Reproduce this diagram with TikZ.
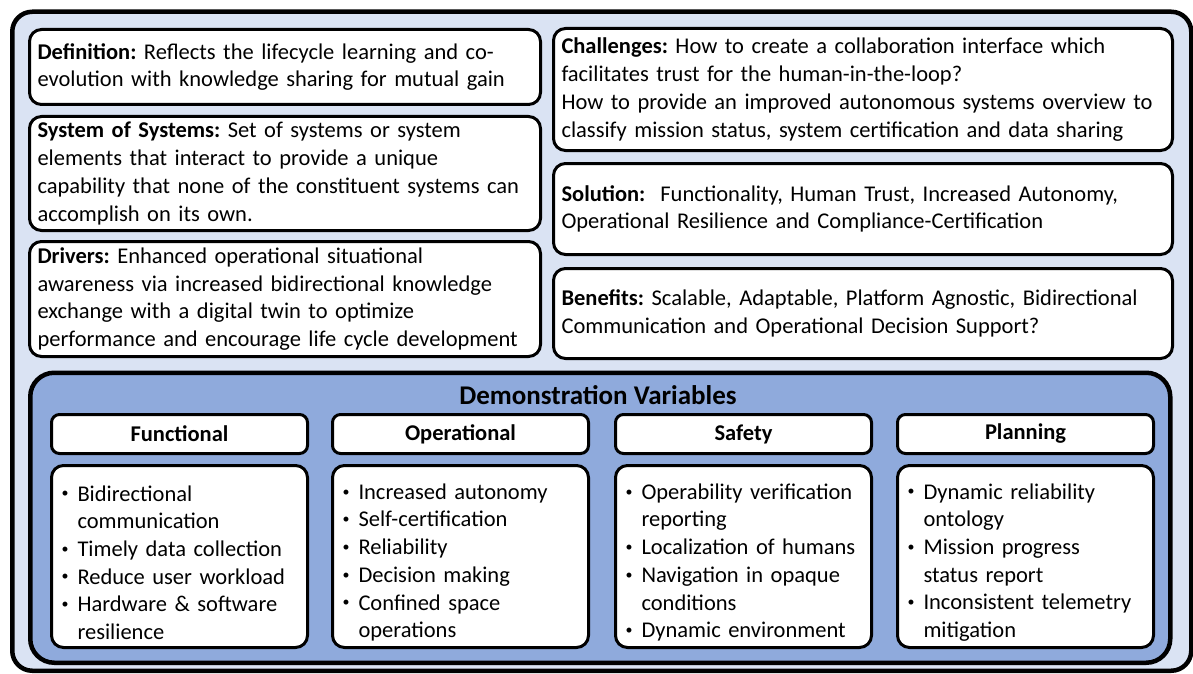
\documentclass[tikz,border=0pt]{standalone}
\usepackage{fontspec}
\setmainfont{Carlito}
\frenchspacing
\definecolor{paleblue}{HTML}{DAE3F3}
\definecolor{demoblue}{HTML}{8FAADC}
\newcommand{\dvbullet}{\raisebox{0.3ex}{\fontsize{14}{14}\selectfont\textbullet}}
\newcommand{\dvitem}[1]{\par\hangindent=18pt\hangafter=1\noindent\makebox[18pt][l]{\hspace{2pt}\dvbullet}#1\par}

\begin{document}
\begin{tikzpicture}[x=1pt,y=-1pt]

% Box style
\tikzset{
    infobox/.style={draw, line width=3pt, rounded corners=12pt, fill=white,
        anchor=north west, inner xsep=8pt, inner ysep=0pt, align=left,
        font=\fontsize{22.5}{27.7}\selectfont},
    varhead/.style={draw, line width=3pt, rounded corners=8pt, fill=white,
        anchor=north west, minimum width=256pt, minimum height=39pt,
        font=\fontsize{22.5}{27.7}\selectfont\bfseries},
    varlist/.style={infobox, text width=240pt, minimum height=182pt}
}
\useasboundingbox (0,0) rectangle (1193,674);
\node[draw, line width=4.5pt, rounded corners=20pt, fill=paleblue, anchor=north west,
    minimum width=1179pt, minimum height=659pt] (FRAME) at (10,9.5) {};

% Left column
\node[infobox, text width=495pt, minimum height=75pt] (DEF) at (28,28)
    {\textbf{Definition:} Reflects the lifecycle learning and co-\\evolution with knowledge sharing for mutual gain};
\node[infobox, text width=495pt, minimum height=114pt] (SOS) at (28,115)
    {\textbf{System of Systems:} Set of systems or system\\elements that interact to provide a unique\\capability that none of the constituent systems can\\accomplish on its own.};
\node[infobox, text width=495pt, minimum height=115pt] (DRV) at (28,240)
    {\textbf{Drivers:} Enhanced operational situational\\awareness via increased bidirectional knowledge\\exchange with a digital twin to optimize\\performance and encourage life cycle development};

% Right column
\node[infobox, text width=603pt, minimum height=122pt] (CHAL) at (552,27)
    {\textbf{Challenges:} How to create a collaboration interface which\\facilitates trust for the human-in-the-loop?\\How to provide an improved autonomous systems overview to\\classify mission status, system certification and data sharing};
\node[infobox, text width=603pt, minimum height=91pt] (SOL) at (552,162)
    {\textbf{Solution:}\ \ Functionality, Human Trust, Increased Autonomy,\\Operational Resilience and Compliance-Certification};
\node[infobox, text width=603pt, minimum height=90pt] (BEN) at (552,267)
    {\textbf{Benefits:} Scalable, Adaptable, Platform Agnostic, Bidirectional\\Communication and Operational Decision Support?};

% Demonstration variables
\node[draw, line width=4.5pt, rounded corners=24pt, fill=demoblue, anchor=north west,
    minimum width=1140pt, minimum height=290pt] (DEMO) at (28,370.5) {};
\node[font=\fontsize{27}{32}\selectfont\bfseries] (TITLE) at (598,395) {Demonstration Variables};

\node[varhead] (HEAD1) at (50,413) {Functional};
\node[varhead] (HEAD2) at (331,413) {Operational};
\node[varhead] (HEAD3) at (614,413) {Safety};
\node[varhead] (HEAD4) at (896,413) {Planning};

\node[varlist] (LIST1) at (50,464)
    {\dvitem{Bidirectional\newline communication}\dvitem{Timely data collection}\dvitem{Reduce user workload}\dvitem{Hardware \& software\newline resilience}};
\node[varlist] (LIST2) at (331,464)
    {\dvitem{Increased autonomy}\dvitem{Self-certification}\dvitem{Reliability}\dvitem{Decision making}\dvitem{Confined space\newline operations}};
\node[varlist] (LIST3) at (614,464)
    {\dvitem{Operability verification\newline reporting}\dvitem{Localization of humans}\dvitem{Navigation in opaque\newline conditions}\dvitem{Dynamic environment}};
\node[varlist] (LIST4) at (896,464)
    {\dvitem{Dynamic reliability\newline ontology}\dvitem{Mission progress\newline status report}\dvitem{Inconsistent telemetry\newline mitigation}};
\end{tikzpicture}
\end{document}
